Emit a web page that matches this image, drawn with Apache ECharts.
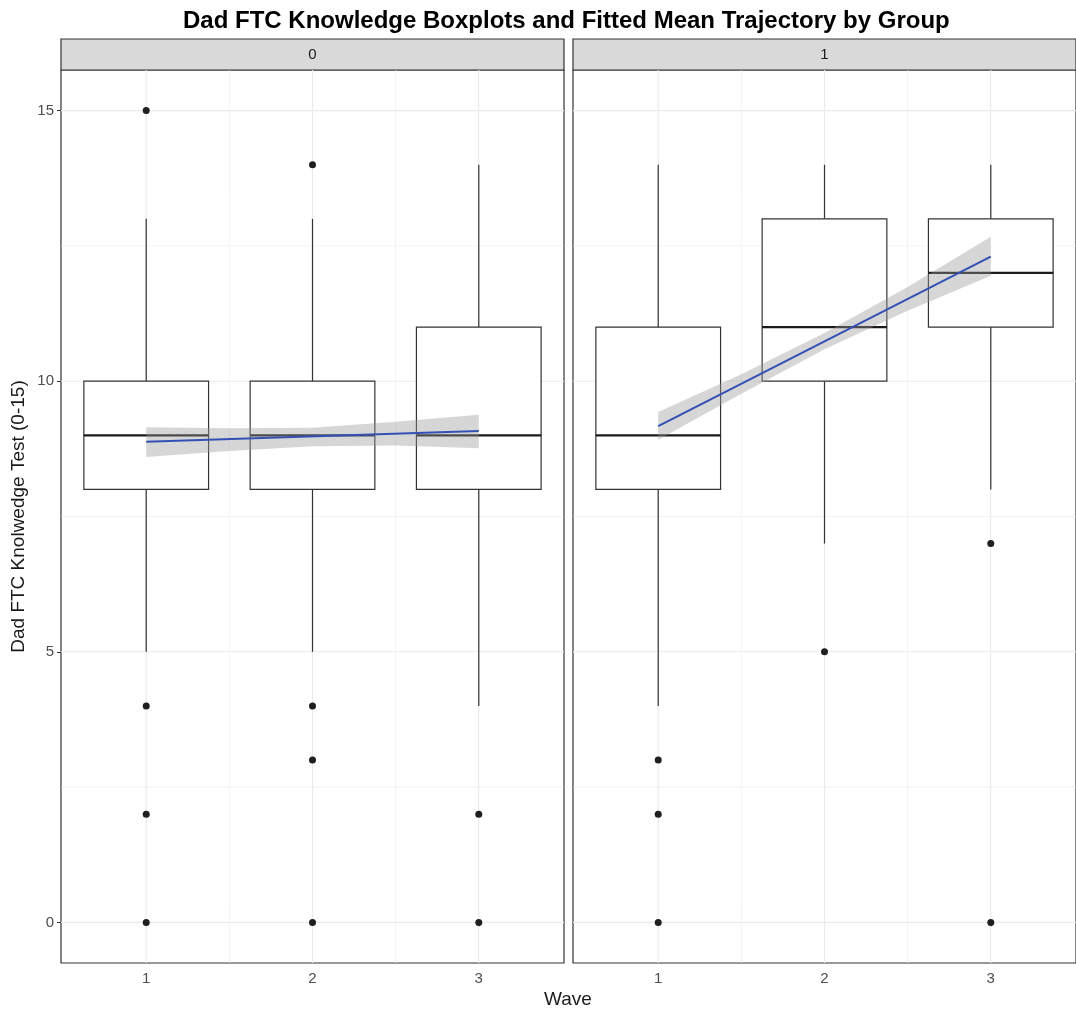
<!DOCTYPE html>
<html>
<head>
<meta charset="utf-8">
<title>Dad FTC Knowledge Boxplots</title>
<style>
  html, body { margin: 0; height: 100%; background: #fff; }
  #container { width: 1076px; height: 1014px; }
</style>
</head>
<body>
<div id="container"></div>
<script src="https://cdn.jsdelivr.net/npm/echarts@6/dist/echarts.min.js"></script>
<script>
// ---- data ----
var waves = [1, 2, 3];
var groups = ['0', '1'];
var yTicks = [0, 5, 10, 15];

// [low whisker, Q1, median, Q3, high whisker] per wave
var box0 = [[5, 8, 9, 10, 13], [5, 8, 9, 10, 13], [4, 8, 9, 11, 14]];
var box1 = [[4, 8, 9, 11, 14], [7, 10, 11, 13, 14], [8, 11, 12, 13, 14]];

// outliers [wave, score]
var out0 = [[1, 15], [1, 4], [1, 2], [1, 0], [2, 14], [2, 4], [2, 3], [2, 0], [3, 2], [3, 0]];
var out1 = [[1, 3], [1, 2], [1, 0], [2, 5], [3, 7], [3, 0]];

// fitted mean trajectory (end points) and its confidence band
var fit0 = [[1, 8.88], [3, 9.08]];
var fit1 = [[1, 9.17], [3, 12.30]];
var bandX = [1, 1.5, 2, 2.5, 3];
var lo0 = [8.60, 8.71, 8.80, 8.81, 8.76];
var hi0 = [9.15, 9.13, 9.14, 9.25, 9.38];
var lo1 = [8.92, 9.77, 10.59, 11.30, 11.95];
var hi1 = [9.43, 10.13, 10.89, 11.74, 12.67];

var xMajor = [1, 2, 3], xMinor = [1.5, 2.5];
var yMajor = [0, 5, 10, 15], yMinor = [2.5, 7.5, 12.5];

var chart = echarts.init(document.getElementById('container'));

var panelLeft = [61, 573], panelW = 503, panelTop = 70, panelH = 893;
var FONT = 'Liberation Sans';

function boxData(b) {
  return waves.map(function (w, i) { return [w].concat(b[i]); });
}

function renderBox(params, api) {
  var x = api.value(0);
  var half = api.size([0.75, 0])[0] / 2;
  var pLow = api.coord([x, api.value(1)]);
  var pQ1 = api.coord([x, api.value(2)]);
  var pMed = api.coord([x, api.value(3)]);
  var pQ3 = api.coord([x, api.value(4)]);
  var pHigh = api.coord([x, api.value(5)]);
  var stroke = { stroke: '#333', lineWidth: 1.2, fill: null };
  return {
    type: 'group',
    children: [
      { type: 'line', shape: { x1: pLow[0], y1: pLow[1], x2: pQ1[0], y2: pQ1[1] }, style: stroke },
      { type: 'line', shape: { x1: pQ3[0], y1: pQ3[1], x2: pHigh[0], y2: pHigh[1] }, style: stroke },
      { type: 'rect', shape: { x: pQ3[0] - half, y: pQ3[1], width: half * 2, height: pQ1[1] - pQ3[1] },
        style: { stroke: '#333', lineWidth: 1.2, fill: '#fff' } },
      { type: 'line', shape: { x1: pMed[0] - half, y1: pMed[1], x2: pMed[0] + half, y2: pMed[1] },
        style: { stroke: '#1a1a1a', lineWidth: 2.2 } }
    ]
  };
}

function bandRenderer(lo, hi) {
  return function (params, api) {
    if (params.dataIndex !== 0) return;
    var pts = [];
    bandX.forEach(function (x, i) { pts.push(api.coord([x, hi[i]])); });
    for (var i = bandX.length - 1; i >= 0; i--) pts.push(api.coord([bandX[i], lo[i]]));
    return { type: 'polygon', shape: { points: pts }, style: { fill: 'rgba(153,153,153,0.4)' } };
  };
}

function gridRenderer(vertical) {
  return function (params, api) {
    var cs = params.coordSys;
    var v = api.value(0), major = api.value(1);
    var style = { stroke: '#ebebeb', lineWidth: major ? 1.1 : 0.6 };
    if (vertical) {
      var px = api.coord([v, 0])[0];
      return { type: 'line', shape: { x1: px, y1: cs.y, x2: px, y2: cs.y + cs.height }, style: style };
    }
    var py = api.coord([1, v])[1];
    return { type: 'line', shape: { x1: cs.x, y1: py, x2: cs.x + cs.width, y2: py }, style: style };
  };
}

var series = [];
var boxes = [box0, box1], outs = [out0, out1], fits = [fit0, fit1];
var los = [lo0, lo1], his = [hi0, hi1];

for (var g = 0; g < 2; g++) {
  series.push({
    type: 'custom', xAxisIndex: g, yAxisIndex: g, silent: true, z: 1,
    renderItem: gridRenderer(true), encode: { x: 0 },
    data: xMajor.map(function (v) { return [v, 1]; }).concat(xMinor.map(function (v) { return [v, 0]; }))
  });
  series.push({
    type: 'custom', xAxisIndex: g, yAxisIndex: g, silent: true, z: 1,
    renderItem: gridRenderer(false), encode: { y: 0 },
    data: yMajor.map(function (v) { return [v, 1]; }).concat(yMinor.map(function (v) { return [v, 0]; }))
  });
  series.push({
    type: 'custom', xAxisIndex: g, yAxisIndex: g, z: 2,
    renderItem: renderBox, encode: { x: 0, y: [1, 2, 3, 4, 5] },
    data: boxData(boxes[g])
  });
  series.push({
    type: 'scatter', xAxisIndex: g, yAxisIndex: g, z: 3,
    symbolSize: 7, itemStyle: { color: '#1f1f1f', opacity: 1 },
    data: outs[g]
  });
  series.push({
    type: 'custom', xAxisIndex: g, yAxisIndex: g, z: 4, silent: true,
    renderItem: bandRenderer(los[g], his[g]), encode: { x: 0, y: 1 },
    data: bandX.map(function (x, i) { return [x, los[g][i]]; })
  });
  series.push({
    type: 'line', xAxisIndex: g, yAxisIndex: g, z: 5,
    symbol: 'none', lineStyle: { color: '#3450b4', width: 2 },
    data: fits[g]
  });
}

var grids = [], xAxes = [], yAxes = [], graphics = [];
for (var k = 0; k < 2; k++) {
  grids.push({ left: panelLeft[k], top: panelTop, width: panelW, height: panelH,
    show: true, borderColor: '#333', borderWidth: 1.2, backgroundColor: '#fff' });
  xAxes.push({
    type: 'value', gridIndex: k, min: 0.4875, max: 3.5125,
    axisLine: { show: false }, splitLine: { show: false },
    axisTick: { show: true, length: 4, lineStyle: { color: '#333' }, customValues: waves },
    axisLabel: { color: '#4d4d4d', fontSize: 15, fontFamily: FONT, margin: 8, customValues: waves }
  });
  yAxes.push({
    type: 'value', gridIndex: k, min: -0.75, max: 15.75,
    axisLine: { show: false }, splitLine: { show: false },
    axisTick: { show: k === 0, length: 4, lineStyle: { color: '#333' }, customValues: yTicks },
    axisLabel: { show: k === 0, color: '#4d4d4d', fontSize: 15, fontFamily: FONT, margin: 7, customValues: yTicks },
    name: k === 0 ? 'Dad FTC Knolwedge Test (0-15)' : '',
    nameLocation: 'middle', nameGap: 33, nameRotate: 90,
    nameTextStyle: { color: '#1a1a1a', fontSize: 19, fontFamily: FONT }
  });
  graphics.push({
    type: 'rect', shape: { x: panelLeft[k], y: 39, width: panelW, height: 31 },
    style: { fill: '#d9d9d9', stroke: '#333', lineWidth: 1.2 }
  });
  graphics.push({
    type: 'text', x: panelLeft[k] + panelW / 2, y: 55,
    style: { text: groups[k], fill: '#1a1a1a', font: '15px "Liberation Sans"', textAlign: 'center', textVerticalAlign: 'middle' }
  });
}
graphics.push({
  type: 'text', x: 568, y: 1000,
  style: { text: 'Wave', fill: '#1a1a1a', font: '19px "Liberation Sans"', textAlign: 'center', textVerticalAlign: 'middle' }
});

chart.setOption({
  animation: false,
  backgroundColor: '#fff',
  title: {
    text: 'Dad FTC Knowledge Boxplots and Fitted Mean Trajectory by Group',
    left: 178, top: 4,
    textStyle: { fontSize: 24, fontWeight: 'bold', color: '#000', fontFamily: FONT }
  },
  grid: grids,
  xAxis: xAxes,
  yAxis: yAxes,
  series: series,
  graphic: graphics
});
</script>
</body>
</html>
